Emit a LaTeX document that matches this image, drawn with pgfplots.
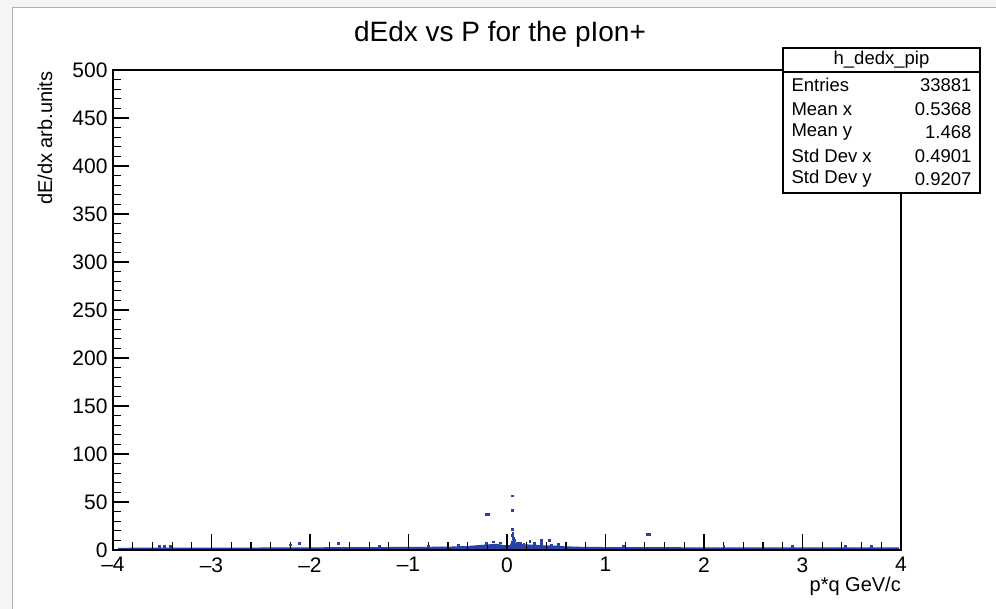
\documentclass[border=0pt]{standalone}
\usepackage{pgfplots}
\pgfplotsset{compat=1.18}
\usepackage{fontspec}
\setmainfont{Liberation Sans}
\definecolor{rootblue}{RGB}{40,65,165}

\begin{document}
\begin{tikzpicture}[x=1pt,y=1pt]
\useasboundingbox (0,0) rectangle (996,609);
\fill[white] (0,0) rectangle (996,609);
% window edge of the screenshot
\fill[gray!8] (0,0) rectangle (12,609);
\fill[gray!8] (0,601) rectangle (996,609);
\draw[gray!60, line width=1pt] (12,0) -- (12,601) -- (996,601);

\begin{axis}[
  at={(113pt,59pt)}, anchor=south west, scale only axis,
  width=788pt, height=480pt,
  xmin=-4, xmax=4, ymin=0, ymax=500,
  axis on top,
  axis line style={line width=1.3pt},
  xtick={-4,...,4},
  xticklabels={\textendash4,\textendash3,\textendash2,\textendash1,0,1,2,3,4},
  ytick={0,50,...,500},
  minor x tick num=4, minor y tick num=4,
  tick align=inside, tick pos=left,
  major tick length=16pt, minor tick length=8pt,
  tick style={line width=1.2pt, black},
  ticklabel style={font=\fontsize{21}{24}\selectfont},
  yticklabel style={xshift=-2pt},
  xticklabel style={yshift=-4pt},
  /pgf/number format/assume math mode=true,
]
% dense band of entries just above zero
\addplot[fill=rootblue, draw=none] coordinates {
  (-3.95,0) (-3.95,2.2) (-3.6,2.6) (-3.0,2.4) (-2.5,2.6) (-2.0,2.8)
  (-1.5,3.0) (-1.0,3.2) (-0.6,3.5) (-0.4,4.2) (-0.3,5.0) (-0.2,5.8)
  (-0.1,6.5) (-0.03,5.0) (0.03,5.0) (0.05,10) (0.07,10) (0.09,7)
  (0.15,6.2) (0.25,5.5) (0.35,5.0) (0.5,4.5) (0.6,3.8) (0.8,3.2)
  (1.2,3.0) (2.0,2.8) (3.0,2.6) (3.98,2.6) (3.98,0)
} \closedcycle;
% sparse entries
\addplot[only marks, mark=square*, mark size=0.95pt, rootblue] coordinates {
  (0.054,56.6) (0.054,41.5) (-0.215,37.3) (-0.195,37.3)
  (1.42,16.7) (1.44,16.7)
  (0.054,21.5) (0.058,18) (0.05,15) (0.06,12.5) (0.07,10.5) (0.05,8)
  (-2.11,7) (-1.71,7) (-0.14,8.6) (-0.21,7) (-0.07,7.6)
  (0.13,7.6) (0.23,8.7) (0.35,10.4) (0.35,7) (0.43,10.4) (0.45,5.2)
  (0.1,7) (0.17,6.5) (0.28,7) (0.52,6)
  (1.18,4.4) (3.43,4.4) (-3.53,4.4) (-3.48,3.6) (-3.42,4)
  (-2.2,5.5) (-1.3,4.5) (-0.8,4.2) (-0.5,5.2) (2.2,3.8) (2.9,3.6) (3.7,3.6)
};
\end{axis}

% title and axis titles
\node[anchor=base, font=\fontsize{28}{32}\selectfont] at (500,567) {dEdx vs P for the pIon+};
\node[rotate=90, anchor=east, font=\fontsize{20}{24}\selectfont] at (45,541) {dE/dx arb.units};
\node[anchor=base east, font=\fontsize{20}{24}\selectfont, inner sep=0pt] at (901,17) {p*q GeV/c};

% statistics box
\draw[line width=1.2pt, fill=white] (783,416) rectangle (980,561);
\draw[line width=1.2pt] (783,537) -- (980,537);
\begin{scope}[font=\fontsize{18.5}{22}\selectfont]
\node at (881.5,549) {h\_dedx\_pip};
\node[anchor=west] at (788,524) {Entries};
\node[anchor=west] at (788,500) {Mean x};
\node[anchor=west] at (788,477) {Mean y};
\node[anchor=west] at (788,453) {Std Dev x};
\node[anchor=west] at (788,430) {Std Dev y};
\node[anchor=east] at (975,524) {33881};
\node[anchor=east] at (975,500) {0.5368};
\node[anchor=east] at (975,477) {1.468};
\node[anchor=east] at (975,453) {0.4901};
\node[anchor=east] at (975,430) {0.9207};
\end{scope}
\end{tikzpicture}
\end{document}
